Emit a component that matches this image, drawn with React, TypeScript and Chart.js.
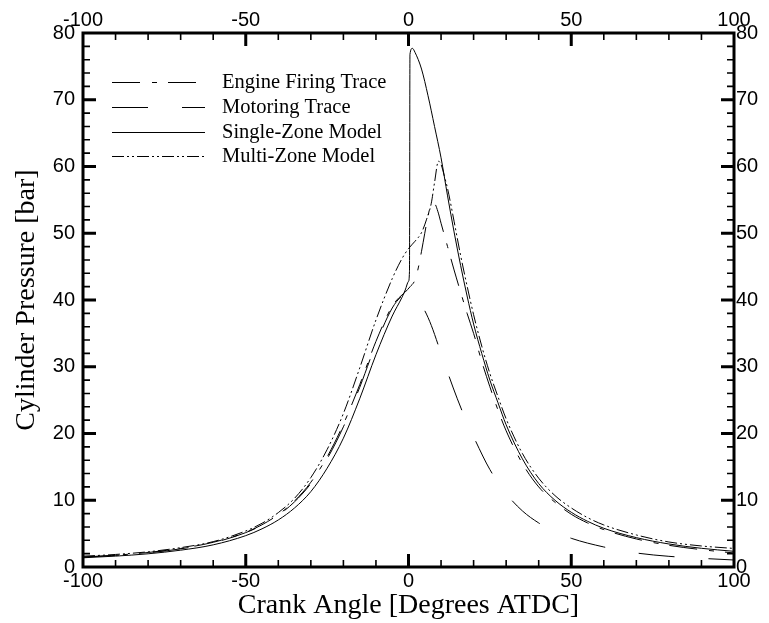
import React, { useEffect, useRef } from 'react';
import { Chart, registerables } from 'chart.js';

Chart.register(...registerables);

// ---- Data (crank angle in degrees ATDC, pressure in bar) ----
const firingAngle = [-100, -90, -80, -70, -60, -50, -45, -40, -35, -30, -25, -20, -15, -10, -5, -3, -1, 0.5, 2, 3, 4, 5, 6, 7, 8, 9, 10, 12, 14, 16, 18, 20, 22.5, 25, 27.5, 30, 35, 40, 45, 50, 55, 60, 70, 80, 90, 100];
const firingPressure = [1.5, 1.77, 2.17, 2.78, 3.7, 5.2, 6.33, 7.85, 9.9, 12.7, 16.5, 21.4, 27.3, 33.8, 39.1, 40.3, 41.2, 42.0, 43.0, 44.8, 47.3, 50.0, 52.6, 54.3, 54.4, 53.3, 51.5, 48.0, 44.5, 41.2, 38.0, 35.0, 30.8, 27.0, 23.5, 20.4, 15.5, 12.0, 9.7, 7.9, 6.6, 5.6, 4.2, 3.25, 2.6, 2.1];

const motoringAngle = [-100, -90, -80, -70, -60, -50, -45, -40, -35, -30, -25, -20, -15, -10, -5, -2, 0, 2, 5, 7, 10, 12.5, 15, 18, 20, 25, 30, 35, 40, 45, 50, 60, 70, 80, 90, 100];
const motoringPressure = [1.47, 1.74, 2.13, 2.72, 3.64, 5.15, 6.27, 7.76, 9.77, 12.5, 16.2, 21.0, 26.9, 33.4, 38.8, 40.6, 41.0, 40.7, 38.4, 36.2, 32.0, 28.5, 25.2, 21.6, 19.5, 14.6, 11.0, 8.4, 6.6, 5.3, 4.3, 3.0, 2.1, 1.6, 1.3, 1.05];

const singleZoneAngle = [-100, -90, -80, -70, -60, -50, -45, -40, -35, -30, -25, -20, -15, -10, -5, -2, -1, 0, 0.3, 0.45, 1.2, 2, 4, 6, 8, 10, 12, 14, 16, 18, 20, 22.5, 25, 27.5, 30, 35, 40, 45, 50, 55, 60, 70, 80, 90, 100];
const singleZonePressure = [1.38, 1.63, 1.98, 2.52, 3.32, 4.7, 5.72, 7.05, 8.85, 11.3, 14.8, 19.3, 25.2, 31.8, 37.6, 40.4, 41.5, 42.8, 44.3, 76.8, 77.7, 77.1, 74.6, 70.6, 66.0, 61.3, 55.6, 50.2, 45.2, 40.6, 36.4, 32.0, 28.0, 24.6, 21.3, 16.2, 12.5, 10.0, 8.2, 6.85, 5.8, 4.4, 3.45, 2.8, 2.35];

const multiZoneAngle = [-100, -90, -80, -70, -60, -50, -45, -40, -35, -30, -25, -20, -15, -10, -5, -2, 0, 2, 4, 5.5, 7, 8, 9.2, 10, 11, 12, 14, 16, 18, 20, 22.5, 25, 27.5, 30, 35, 40, 45, 50, 55, 60, 70, 80, 90, 100];
const multiZonePressure = [1.62, 1.88, 2.28, 2.9, 3.8, 5.4, 6.55, 8.15, 10.3, 13.4, 17.6, 23.0, 29.8, 37.0, 43.2, 46.2, 47.7, 48.8, 50.1, 52.0, 54.5, 57.6, 60.8, 60.3, 58.6, 56.7, 51.8, 46.7, 42.1, 37.8, 33.1, 29.0, 25.5, 22.2, 17.0, 13.3, 10.7, 8.85, 7.4, 6.3, 4.8, 3.75, 3.15, 2.78];

const seriesLabels = ['Engine Firing Trace', 'Motoring Trace', 'Single-Zone Model', 'Multi-Zone Model'];

const xRange = [-100, 100];
const yRange = [0, 80];
const xMajorStep = 50;
const xMinorStep = 10;
const yMajorStep = 10;
const yMinorStep = 2;

const xTitle = 'Crank Angle [Degrees ATDC]';
const yTitle = 'Cylinder Pressure [bar]';

const pts = (a: number[], p: number[]) => a.map((x, i) => ({ x, y: p[i] }));

const dashes = [[28, 12, 5, 11], [36, 34], [], [12, 3, 2, 3, 2, 3]];

const tickFont = { family: '"Liberation Sans", Arial, sans-serif', size: 20 };
const titleFont = { family: '"Liberation Serif", "Times New Roman", serif', size: 28 };
const legendFont = '20.5px "Liberation Serif", "Times New Roman", serif';

const framePlugin = {
  id: 'frameTicksLegend',
  afterDatasetsDraw(chart: any) {
    const { ctx, chartArea } = chart;
    const { left, right, top, bottom } = chartArea;
    const xs = chart.scales.x;
    const ys = chart.scales.y;
    ctx.save();
    ctx.strokeStyle = '#000';
    ctx.setLineDash([]);

    // inner ticks
    const drawX = (v: number, len: number, w: number) => {
      const px = xs.getPixelForValue(v);
      ctx.lineWidth = w;
      ctx.beginPath();
      ctx.moveTo(px, bottom);
      ctx.lineTo(px, bottom - len);
      ctx.moveTo(px, top);
      ctx.lineTo(px, top + len);
      ctx.stroke();
    };
    const drawY = (v: number, len: number, w: number) => {
      const py = ys.getPixelForValue(v);
      ctx.lineWidth = w;
      ctx.beginPath();
      ctx.moveTo(left, py);
      ctx.lineTo(left + len, py);
      ctx.moveTo(right, py);
      ctx.lineTo(right - len, py);
      ctx.stroke();
    };
    for (let v = xRange[0] + xMinorStep; v < xRange[1]; v += xMinorStep) {
      if (v % xMajorStep === 0) drawX(v, 13, 3);
      else drawX(v, 7, 1.6);
    }
    for (let v = yRange[0] + yMinorStep; v < yRange[1]; v += yMinorStep) {
      if (v % yMajorStep === 0) drawY(v, 13, 3);
      else drawY(v, 7, 1.6);
    }

    // frame
    ctx.lineWidth = 3;
    ctx.strokeRect(left, top, right - left, bottom - top);

    // legend
    ctx.font = legendFont;
    ctx.fillStyle = '#000';
    ctx.textBaseline = 'middle';
    ctx.textAlign = 'left';
    chart.data.datasets.forEach((ds: any, i: number) => {
      const y = Math.round(top + 49 + i * 24.8) + 0.5;
      ctx.lineWidth = 1;
      ctx.setLineDash(ds.borderDash || []);
      ctx.beginPath();
      ctx.moveTo(left + 29, y);
      ctx.lineTo(left + 122, y);
      ctx.stroke();
      ctx.setLineDash([]);
      ctx.fillText(ds.label, left + 139, y);
    });
    ctx.restore();
  },
};

export default function App() {
  const ref = useRef<HTMLCanvasElement>(null);

  useEffect(() => {
    const series = [
      pts(firingAngle, firingPressure),
      pts(motoringAngle, motoringPressure),
      pts(singleZoneAngle, singleZonePressure),
      pts(multiZoneAngle, multiZonePressure),
    ];
    const chart = new Chart(ref.current as HTMLCanvasElement, {
      type: 'line',
      data: {
        datasets: series.map((data, i) => ({
          label: seriesLabels[i],
          data,
          borderColor: '#000',
          backgroundColor: '#000',
          borderWidth: 1,
          borderDash: dashes[i],
          pointRadius: 0,
          fill: false,
          cubicInterpolationMode: 'monotone' as const,
        })),
      },
      options: {
        animation: false,
        responsive: false,
        devicePixelRatio: 1,
        layout: { padding: 0 },
        plugins: {
          legend: { display: false },
          tooltip: { enabled: false },
        },
        scales: {
          x: {
            type: 'linear',
            position: 'bottom',
            min: xRange[0],
            max: xRange[1],
            ticks: { stepSize: xMajorStep, font: tickFont, color: '#000', padding: 2, maxRotation: 0, autoSkip: false },
            grid: { display: false, drawTicks: false },
            border: { display: false },
            title: { display: true, text: xTitle, font: titleFont, color: '#000', padding: { top: 0, bottom: 1 } },
            afterFit: (s: any) => { s.height = 56; },
          },
          x2: {
            type: 'linear',
            position: 'top',
            min: xRange[0],
            max: xRange[1],
            ticks: { stepSize: xMajorStep, font: tickFont, color: '#000', padding: 1, maxRotation: 0, autoSkip: false },
            grid: { display: false, drawTicks: false },
            border: { display: false },
            afterFit: (s: any) => { s.height = 33; },
          },
          y: {
            type: 'linear',
            position: 'left',
            min: yRange[0],
            max: yRange[1],
            ticks: { stepSize: yMajorStep, font: tickFont, color: '#000', padding: 8, autoSkip: false },
            grid: { display: false, drawTicks: false },
            border: { display: false },
            title: { display: true, text: yTitle, font: titleFont, color: '#000', padding: { top: 10, bottom: 0 } },
            afterFit: (s: any) => { s.width = 83; },
          },
          y2: {
            type: 'linear',
            position: 'right',
            min: yRange[0],
            max: yRange[1],
            ticks: { stepSize: yMajorStep, font: tickFont, color: '#000', padding: 2, autoSkip: false },
            grid: { display: false, drawTicks: false },
            border: { display: false },
            afterFit: (s: any) => { s.width = 35; },
          },
        },
      } as any,
      plugins: [framePlugin],
    });
    return () => chart.destroy();
  }, []);

  return (
    <div style={{ position: 'fixed', left: 0, top: 0, width: 769, height: 623, background: '#fff' }}>
      <canvas ref={ref} width={769} height={623} style={{ display: 'block', width: 769, height: 623 }} />
    </div>
  );
}
